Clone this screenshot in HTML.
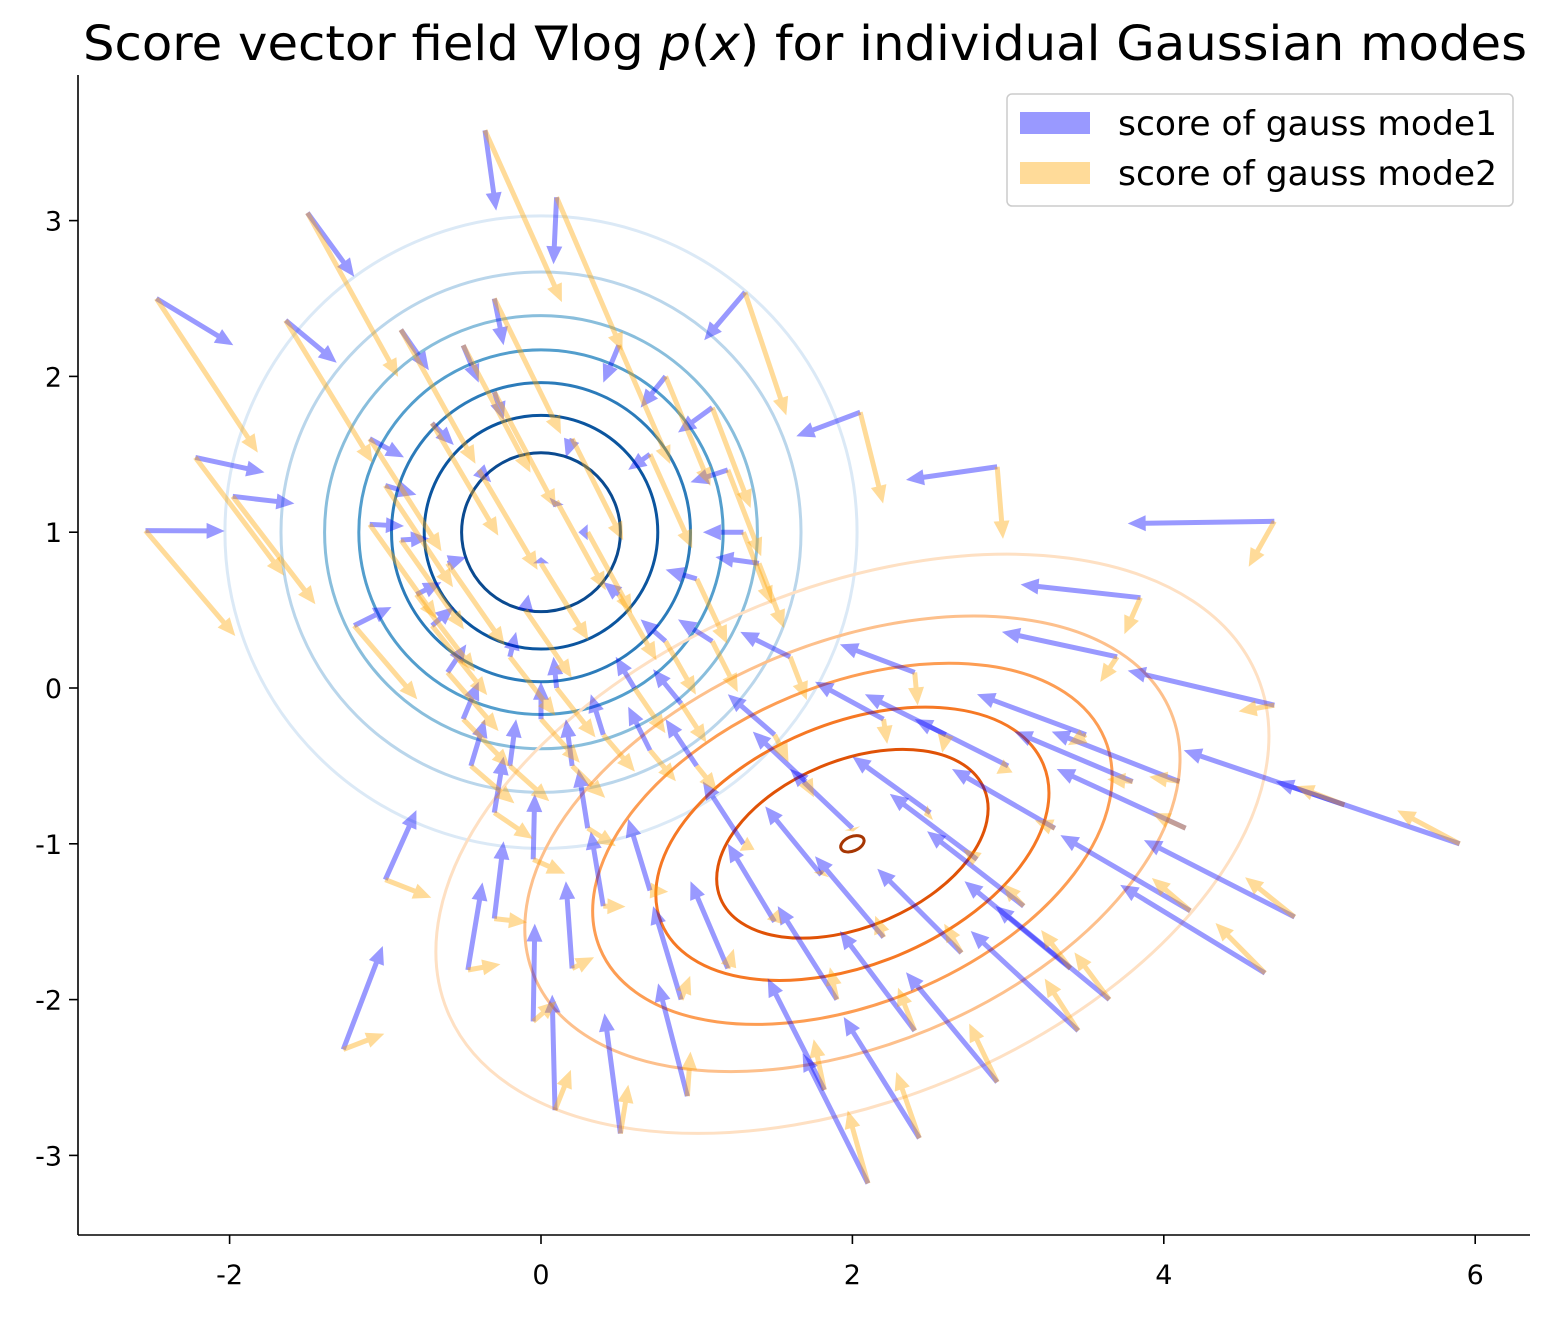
<!DOCTYPE html>
<html><head><meta charset="utf-8"><style>
html,body{margin:0;padding:0;background:#fff;}
svg text{font-family:"DejaVu Sans","Liberation Sans",sans-serif;}
</style></head><body>
<svg id="chart" width="1550" height="1313" viewBox="0 0 1550 1313" xmlns="http://www.w3.org/2000/svg">
<text x="805" y="60" font-size="48" text-anchor="middle" textLength="1444" lengthAdjust="spacingAndGlyphs">Score vector field ∇log <tspan font-style="italic">p</tspan>(<tspan font-style="italic">x</tspan>) for individual Gaussian modes</text>
<g id="contours"></g>
<g id="arrows"></g>
<g id="axes"></g>
<g>
<rect x="1007" y="94" width="506" height="112" rx="5" fill="#fff" fill-opacity="0.8" stroke="#ccc" stroke-width="1.5"/>
<rect x="1020" y="112" width="70" height="22" fill="#0000ff" fill-opacity="0.4"/>
<text x="1118" y="135" font-size="34" textLength="379" lengthAdjust="spacingAndGlyphs">score of gauss mode1</text>
<rect x="1020" y="162" width="70" height="22" fill="#ffa500" fill-opacity="0.4"/>
<text x="1118" y="185" font-size="34" textLength="379" lengthAdjust="spacingAndGlyphs">score of gauss mode2</text>
</g>
</svg>
<script>
const xTicks=[-2,0,2,4,6];
const yTicks=[-3,-2,-1,0,1,2,3];
const mu1=[0,1];
const mu2=[2,-1];
const circleRadii=[2.03,1.67,1.39,1.17,0.96,0.75,0.51];
const circleColors=["#dbe9f6","#bad6eb","#89bedc","#539ecd","#2b7bba","#0b559f","#0a4a90"];
const ellipseLevels=[1.78,1.40,1.11,0.84,0.58,0.05];
const ellipseColors=["#fee0c3","#fdc08c","#fd9d53","#f67824","#e05206","#a63603"];
const ptsX=[-0.36,0.10,-1.50,-2.47,1.31,-2.22,-2.54,-1.98,-1.64,2.05,2.93,4.71,3.85,4.71,5.90,5.16,4.84,4.65,3.65,3.45,2.93,2.43,2.10,1.82,0.94,0.51,0.09,-0.05,-1.27,-1.00,-0.47,-0.30,4.14,4.17,
-1.1,-1.0,-1.1,-0.9,-0.8,-0.7,-0.6,-0.5,-0.45,-0.3,-0.2,-0.1,0,0.1,0.2,-0.3,-0.5,-0.9,0.5,0.8,1.1,1.2,1.3,1.0,0.8,0.6,0.4,0.2,0,0.5,0.3,-0.4,-0.6,-0.2,0.7,0.9,1.1,-1.2,-0.3,0.7,0.1,-0.7,1.4,0.3,-0.05,
1.5,1.7,1.8,2.2,2.5,2.8,3.0,3.3,1.3,1.5,1.9,2.4,2.7,3.1,3.5,3.8,2.2,1.0,1.2,0.7,0.9,2.0,2.6,3.4,1.6,2.4,3.7,4.1,0.4,0.2];
const ptsY=[3.58,3.15,3.05,2.50,2.54,1.48,1.01,1.23,2.36,1.77,1.42,1.07,0.58,-0.11,-1.0,-0.75,-1.47,-1.83,-2.0,-2.2,-2.53,-2.89,-3.18,-2.58,-2.62,-2.86,-2.71,-2.14,-2.32,-1.23,-1.81,-1.48,-0.9,-1.43,
1.6,1.3,1.05,0.95,0.6,0.4,0.1,-0.2,-0.5,-0.8,0.2,0.5,0.8,1.2,1.6,1.9,2.2,2.3,2.2,2.0,1.8,1.4,1.0,0.7,0.3,0.0,-0.3,-0.5,-0.2,0.6,1.0,1.4,0.8,-0.5,-0.4,-0.1,0.3,0.4,2.5,1.5,0.0,1.7,0.8,-0.9,-1.1,
-0.3,-0.6,-1.2,-1.6,-0.8,-1.1,-0.5,-0.9,-1.0,-1.5,-2.0,-2.2,-1.7,-1.4,-0.3,-0.6,-0.2,-0.5,-1.8,-1.3,-2.0,-0.9,-0.3,-1.8,0.2,0.1,0.2,-0.6,-1.4,-1.8];
const arrowScale=0.2;
const th=22.5*Math.PI/180, s1=2.5, s2=0.85;
const X0=541, Y0=688, SX=155.7, SY=155.8;
const px=x=>X0+x*SX, py=y=>Y0-y*SY;
const NS="http://www.w3.org/2000/svg";
function mk(tag,attrs,parent){const e=document.createElementNS(NS,tag);for(const k in attrs)e.setAttribute(k,attrs[k]);parent.appendChild(e);return e;}
const cg=document.getElementById('contours');
circleRadii.forEach((r,i)=>{
 const c=mk('ellipse',{cx:px(mu1[0]),cy:py(mu1[1]),rx:r*SX,ry:r*SY,fill:'none',stroke:circleColors[i],'stroke-width':3},cg);
 
 
});
ellipseLevels.forEach((r,i)=>{
 const a=r*Math.sqrt(s1)*SX, b=r*Math.sqrt(s2)*SX;
 const e=mk('ellipse',{cx:px(mu2[0]),cy:py(mu2[1]),rx:a,ry:b,fill:'none',stroke:ellipseColors[i],'stroke-width':3,transform:`rotate(${-22.5} ${px(mu2[0])} ${py(mu2[1])})`},cg);
 
 
});
const c=Math.cos(th), s=Math.sin(th);
function score2(x,y){const dx=x-mu2[0],dy=y-mu2[1];const u=dx*c+dy*s,v=-dx*s+dy*c;const a=-u/s1,b=-v/s2;return [a*c-b*s,a*s+b*c];}
const ag=document.getElementById('arrows');
function arrow(x0,y0,dxp,dyp,color,name){
 const L=Math.hypot(dxp,dyp); if(L<0.5)return;
 const ux=dxp/L,uy=dyp/L,nx=-uy,ny=ux;
 const w=2.5,hw=8,hl=Math.min(18,L);
 const bx=x0+ux*(L-hl),by=y0+uy*(L-hl);
 const P=[[x0+nx*w,y0+ny*w],[bx+nx*w,by+ny*w],[bx+nx*hw,by+ny*hw],[x0+dxp,y0+dyp],[bx-nx*hw,by-ny*hw],[bx-nx*w,by-ny*w],[x0-nx*w,y0-ny*w]];
 const p=mk('polygon',{points:P.map(q=>q[0].toFixed(1)+','+q[1].toFixed(1)).join(' '),fill:color,'fill-opacity':0.4},ag);
 
 
}
for(let i=0;i<ptsX.length;i++){
 const x=ptsX[i],y=ptsY[i];
 const b=[-(x-mu1[0])*arrowScale,-(y-mu1[1])*arrowScale];
 arrow(px(x),py(y),b[0]*SX,-b[1]*SY,'#0000ff','mode1-arrow');
}
for(let i=0;i<ptsX.length;i++){
 const x=ptsX[i],y=ptsY[i];
 const o=score2(x,y);
 arrow(px(x),py(y),o[0]*arrowScale*SX,-o[1]*arrowScale*SY,'#ffa500','mode2-arrow');
}
const ax=document.getElementById('axes');
const l1=mk('line',{x1:78,y1:75,x2:78,y2:1235,stroke:'#000','stroke-width':1.6},ax);

const l2=mk('line',{x1:78,y1:1235,x2:1530,y2:1235,stroke:'#000','stroke-width':1.6},ax);

xTicks.forEach(t=>{
 mk('line',{x1:px(t),y1:1235,x2:px(t),y2:1244,stroke:'#000','stroke-width':1.6},ax);
 const tx=mk('text',{x:px(t),y:1284,'font-size':27,'text-anchor':'middle'},ax);tx.textContent=t;
 
});
yTicks.forEach(t=>{
 mk('line',{x1:69,y1:py(t),x2:78,y2:py(t),stroke:'#000','stroke-width':1.6},ax);
 const tx=mk('text',{x:62,y:py(t)+10,'font-size':27,'text-anchor':'end'},ax);tx.textContent=t;
 
});
</script>
</body></html>
